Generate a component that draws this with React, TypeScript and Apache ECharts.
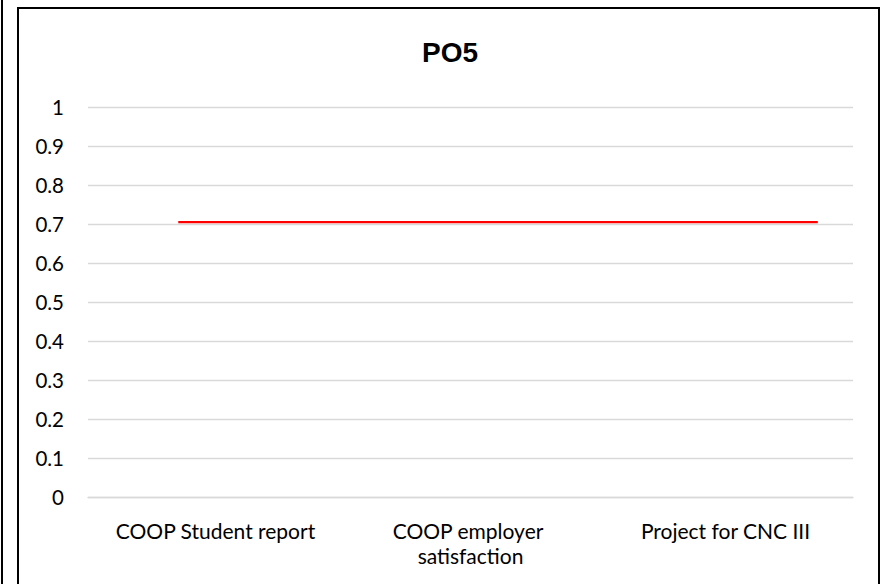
import React, { useEffect, useRef } from "react";
import * as echarts from "echarts";

const titleText = "PO5";
const categories = ["COOP Student report", "COOP employer satisfaction", "Project for CNC III"];
const yTicks = { min: 0, max: 1, interval: 0.1 };
// red reference line: [position along the plot width (0..1), value]
const lineStart = [0.118, 0.705];
const lineEnd = [0.954, 0.705];

const FONT = "Lato, 'Liberation Sans', sans-serif";

export default function App() {
  const ref = useRef<HTMLDivElement>(null);
  useEffect(() => {
    if (!ref.current) return;
    const chart = echarts.init(ref.current, undefined, { renderer: "svg" });
    chart.setOption({
      animation: false,
      backgroundColor: "#fff",
      textStyle: { fontFamily: FONT },
      grid: { left: 88, right: 29, top: 107, bottom: 87, containLabel: false },
      xAxis: [
        {
          type: "category",
          data: categories,
          boundaryGap: true,
          axisLine: { show: true, lineStyle: { color: "#d9d9d9", width: 1.3 } },
          axisTick: { show: false },
          axisLabel: {
            color: "#000",
            fontSize: 21,
            fontFamily: FONT,
            margin: 21,
            width: 232,
            overflow: "break",
            lineHeight: 25,
            interval: 0,
          },
          splitLine: { show: false },
        },
        {
          type: "value",
          min: 0,
          max: 1,
          show: false,
          position: "bottom",
        },
      ],
      yAxis: {
        type: "value",
        min: yTicks.min,
        max: yTicks.max,
        interval: yTicks.interval,
        axisLine: { show: false },
        axisTick: { show: false },
        axisLabel: { color: "#000", fontSize: 20.5, fontFamily: FONT, margin: 24 },
        splitLine: { lineStyle: { color: "#d9d9d9", width: 1.3 } },
      },
      series: [
        {
          type: "line",
          xAxisIndex: 1,
          data: [lineStart, lineEnd],
          symbol: "none",
          lineStyle: { color: "#ff0000", width: 2.2 },
        },
      ],
      graphic: [
        {
          type: "rect",
          shape: { x: 18, y: 8, width: 861, height: 620 },
          style: { fill: "none", stroke: "#000", lineWidth: 2 },
          silent: true,
        },
        {
          type: "line",
          shape: { x1: 2, y1: 0, x2: 2, y2: 600 },
          style: { stroke: "#000", lineWidth: 2 },
          silent: true,
        },
        {
          type: "text",
          x: 450,
          y: 52,
          style: {
            text: titleText,
            textAlign: "center",
            textVerticalAlign: "middle",
            fontSize: 28,
            fontWeight: "bold",
            fontFamily: "'Liberation Sans', Arial, sans-serif",
            fill: "#000",
          },
        },
      ],
    });
    return () => chart.dispose();
  }, []);
  return (
    <div
      ref={ref}
      style={{ position: "fixed", left: 0, top: 0, width: 882, height: 584, background: "#fff" }}
    />
  );
}
